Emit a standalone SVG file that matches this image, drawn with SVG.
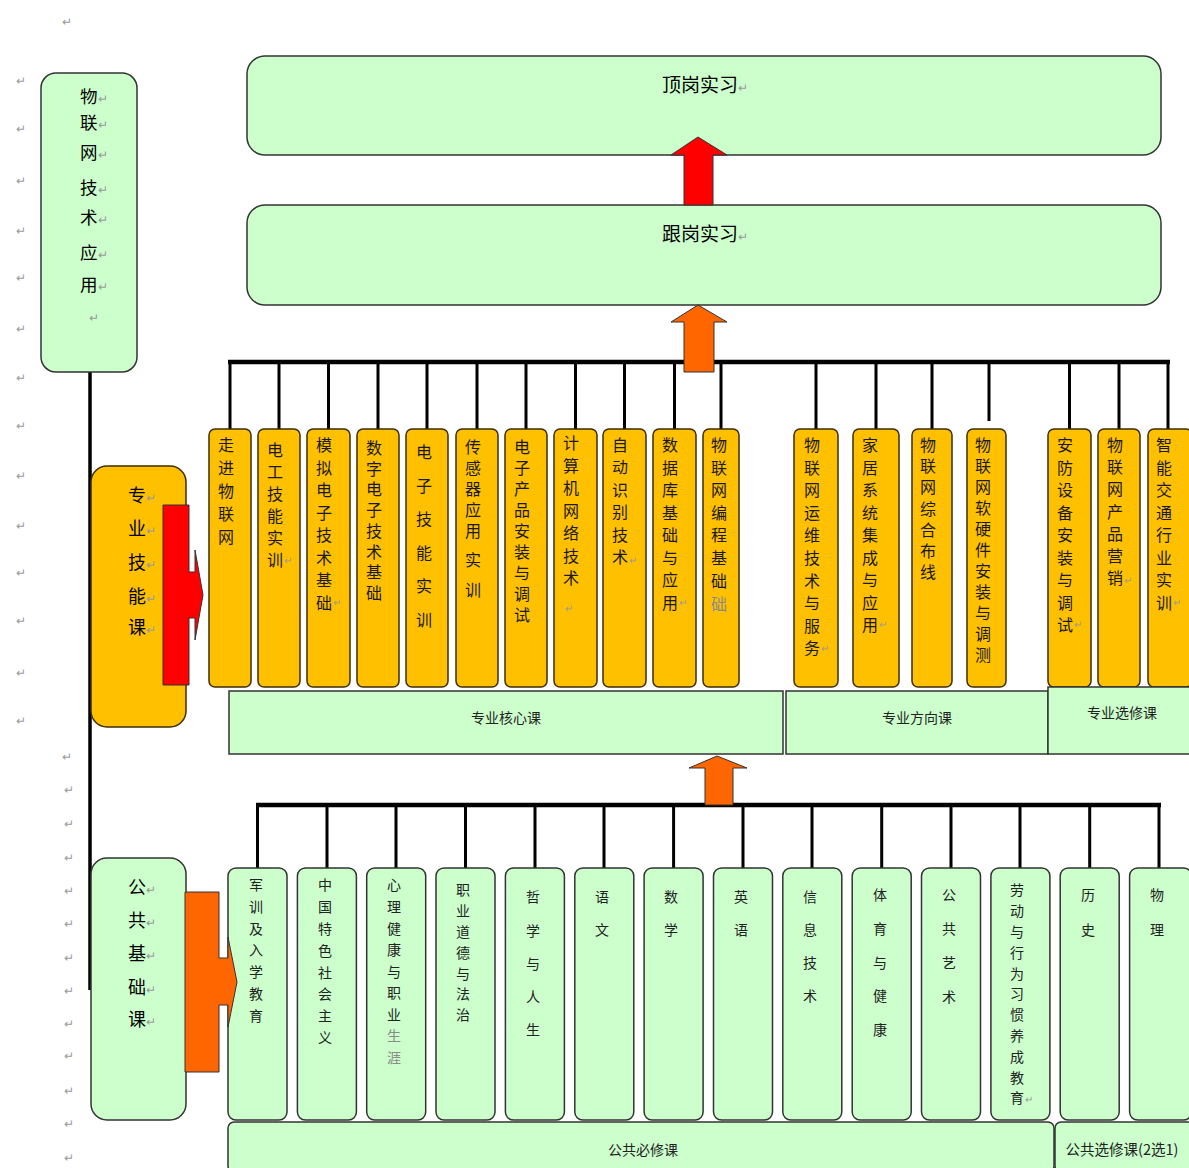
<svg xmlns="http://www.w3.org/2000/svg" width="1189" height="1168" viewBox="0 0 1189 1168">
<style>
.g{fill:#CCFFCC;stroke:#333;stroke-width:1.5}
.y{fill:#FFC000;stroke:#3d2e00;stroke-width:1.5}
.bus{stroke:#000;stroke-width:4.5;fill:none}
.drop{stroke:#000;stroke-width:3;fill:none}
.ar{stroke:#333;stroke-width:1}
text{font-family:"Noto Sans CJK SC","Noto Sans",sans-serif;fill:#000}
.v16{font-size:16px;writing-mode:vertical-rl;fill:#1a1a1a}
.v14{font-size:14px;writing-mode:vertical-rl;fill:#222}
.lb{font-size:14px;text-anchor:middle;fill:#222}
.big{font-size:19px}
.pm{fill:#9a9a9a;font-size:12px}
.pms{fill:#9a9a9a;font-size:10px}
.gray{fill:#8a8a8a}
</style>

<g id="para-marks">
<text class="pm" x="62" y="26">↵</text>
<text class="pm" x="16" y="85">↵</text><text class="pm" x="16" y="133">↵</text><text class="pm" x="16" y="185">↵</text><text class="pm" x="16" y="235">↵</text><text class="pm" x="16" y="282">↵</text><text class="pm" x="16" y="333">↵</text><text class="pm" x="16" y="382">↵</text><text class="pm" x="16" y="430">↵</text><text class="pm" x="16" y="480">↵</text><text class="pm" x="16" y="530">↵</text><text class="pm" x="16" y="577">↵</text><text class="pm" x="16" y="625">↵</text><text class="pm" x="16" y="677">↵</text><text class="pm" x="16" y="725">↵</text>
<text class="pm" x="62" y="761">↵</text><text class="pm" x="64" y="794">↵</text><text class="pm" x="64" y="828">↵</text><text class="pm" x="64" y="862">↵</text><text class="pm" x="64" y="895">↵</text><text class="pm" x="64" y="928">↵</text><text class="pm" x="64" y="962">↵</text><text class="pm" x="64" y="995">↵</text><text class="pm" x="64" y="1028">↵</text><text class="pm" x="64" y="1060">↵</text><text class="pm" x="64" y="1095">↵</text><text class="pm" x="64" y="1128">↵</text><text class="pm" x="64" y="1162">↵</text>
</g>

<g id="connectors">
<line class="drop" x1="90" y1="372" x2="90" y2="990" style="stroke-width:3.5"/>
<line class="bus" x1="228" y1="362" x2="1170" y2="362"/>
<path class="drop" d="M230 362V430M279 362V430M328.5 362V430M378 362V430M427 362V430M477 362V430M526 362V430M575.5 362V430M624.5 362V430M674.5 362V430M721 362V430M816 362V430M876 362V430M932 362V430M989 362V421M1069.5 362V430M1119 362V430M1168 362V430"/>
<line class="bus" x1="256" y1="805" x2="1161" y2="805"/>
<path class="drop" d="M257.5 805V868M327 805V868M396 805V868M465.5 805V868M535 805V868M604 805V868M673.6 805V868M743 805V868M812 805V868M881.7 805V868M951 805V868M1020 805V868M1089.7 805V868M1159 805V868"/>
</g>

<g id="n-dinggang">
<rect class="g" x="247" y="56" width="914" height="99" rx="18"/>
<text class="big" x="662" y="92">顶岗实习<tspan class="pm">↵</tspan></text>
</g>
<g id="n-gengang">
<rect class="g" x="247" y="205" width="914" height="100" rx="18"/>
<text class="big" x="662" y="241">跟岗实习<tspan class="pm">↵</tspan></text>
</g>

<g id="n-root">
<rect class="g" x="41" y="73" width="96" height="299" rx="15"/>
<text style="font-size:17.5px">
<tspan x="80" y="103">物</tspan><tspan class="pm">↵</tspan>
<tspan x="80" y="128.5">联</tspan><tspan class="pm">↵</tspan>
<tspan x="80" y="159">网</tspan><tspan class="pm">↵</tspan>
<tspan x="80" y="194">技</tspan><tspan class="pm">↵</tspan>
<tspan x="80" y="224">术</tspan><tspan class="pm">↵</tspan>
<tspan x="80" y="259">应</tspan><tspan class="pm">↵</tspan>
<tspan x="80" y="291">用</tspan><tspan class="pm">↵</tspan>
</text>
<text class="pm" x="89" y="322">↵</text>
</g>

<g id="n-zhuanye">
<rect x="91" y="466" width="95" height="261" rx="16" style="fill:#FFC000;stroke:#3d2e00;stroke-width:1.5"/>
<text style="font-size:18px">
<tspan x="128" y="502">专</tspan><tspan class="pm">↵</tspan>
<tspan x="128" y="535">业</tspan><tspan class="pm">↵</tspan>
<tspan x="128" y="569">技</tspan><tspan class="pm">↵</tspan>
<tspan x="128" y="603">能</tspan><tspan class="pm">↵</tspan>
<tspan x="128" y="634">课</tspan><tspan class="pm">↵</tspan>
</text>
<polygon class="ar" fill="#FF0000" points="163,505 189,505 189,572 195,572 195,550 203,595 195,640 195,618 189,618 189,685 163,685"/>
</g>

<g id="n-gonggong">
<rect class="g" x="91" y="858" width="95" height="262" rx="16"/>
<text style="font-size:18px">
<tspan x="128" y="894">公</tspan><tspan class="pm">↵</tspan>
<tspan x="128" y="927">共</tspan><tspan class="pm">↵</tspan>
<tspan x="128" y="960">基</tspan><tspan class="pm">↵</tspan>
<tspan x="128" y="994">础</tspan><tspan class="pm">↵</tspan>
<tspan x="128" y="1026">课</tspan><tspan class="pm">↵</tspan>
</text>
</g>

<g id="prof-columns">
<g id="p1"><rect class="y" x="209" y="429" width="42" height="258" rx="6"/>
<text class="v16" x="226" y="437" style="letter-spacing:7px">走进物联网</text></g>
<g id="p2"><rect class="y" x="258" y="429" width="42" height="258" rx="6"/>
<text class="v16" x="275" y="442" style="letter-spacing:6px">电工技能实训</text><text class="pms" x="284" y="564">↵</text></g>
<g id="p3"><rect class="y" x="307" y="429" width="43" height="258" rx="6"/>
<text class="v16" x="324" y="437" style="letter-spacing:6.5px">模拟电子技术基础</text><text class="pms" x="333" y="606">↵</text></g>
<g id="p4"><rect class="y" x="357" y="429" width="42" height="258" rx="6"/>
<text class="v16" x="374" y="440" style="letter-spacing:4.7px">数字电子技术基础</text></g>
<g id="p5"><rect class="y" x="406" y="429" width="42" height="258" rx="6"/>
<text class="v16" x="424" y="444" style="letter-spacing:17.5px">电子技能实训</text></g>
<g id="p6"><rect class="y" x="456" y="429" width="42" height="258" rx="6"/>
<text class="v16" x="473" y="439" style="letter-spacing:5px">传感器应用</text>
<text class="v16" x="473" y="552" style="letter-spacing:14px">实训</text></g>
<g id="p7"><rect class="y" x="505" y="429" width="42" height="258" rx="6"/>
<text class="v16" x="522" y="439" style="letter-spacing:5px">电子产品安装与调试</text></g>
<g id="p8"><rect class="y" x="554" y="429" width="43" height="258" rx="6"/>
<text class="v16" x="571" y="435" style="letter-spacing:6.5px">计算机网络技术</text><text class="pms" x="565" y="612">↵</text></g>
<g id="p9"><rect class="y" x="603" y="429" width="43" height="258" rx="6"/>
<text class="v16" x="620" y="437" style="letter-spacing:6.4px">自动识别技术</text><text class="pms" x="629" y="564">↵</text></g>
<g id="p10"><rect class="y" x="653" y="429" width="43" height="258" rx="6"/>
<text class="v16" x="670" y="437" style="letter-spacing:6.5px">数据库基础与应用</text><text class="pms" x="679" y="606">↵</text></g>
<g id="p11"><rect class="y" x="703" y="429" width="36" height="258" rx="6"/>
<text class="v16" x="719" y="437" style="letter-spacing:6.6px">物联网编程基础</text>
<text class="v16 gray" x="719" y="596">础</text></g>
<g id="p12"><rect class="y" x="794" y="429" width="44" height="258" rx="6"/>
<text class="v16" x="812" y="437" style="letter-spacing:6.6px">物联网运维技术与服务</text><text class="pms" x="821" y="652">↵</text></g>
<g id="p13"><rect class="y" x="853" y="429" width="46" height="258" rx="6"/>
<text class="v16" x="870" y="437" style="letter-spacing:6.5px">家居系统集成与应用</text><text class="pms" x="879" y="628">↵</text></g>
<g id="p14"><rect class="y" x="912" y="429" width="40" height="258" rx="6"/>
<text class="v16" x="928" y="437" style="letter-spacing:5.2px">物联网综合布线</text></g>
<g id="p15"><rect class="y" x="967" y="429" width="39" height="258" rx="6"/>
<text class="v16" x="983" y="437" style="letter-spacing:5px">物联网软硬件安装与调测</text></g>
<g id="p16"><rect class="y" x="1048" y="429" width="43" height="258" rx="6"/>
<text class="v16" x="1065" y="437" style="letter-spacing:6.5px">安防设备安装与调试</text><text class="pms" x="1074" y="628">↵</text></g>
<g id="p17"><rect class="y" x="1098" y="429" width="42" height="258" rx="6"/>
<text class="v16" x="1115" y="437" style="letter-spacing:6.2px">物联网产品营销</text><text class="pms" x="1124" y="584">↵</text></g>
<g id="p18"><rect class="y" x="1148" y="429" width="44" height="258" rx="6"/>
<text class="v16" x="1164" y="437" style="letter-spacing:6.5px">智能交通行业实训</text><text class="pms" x="1173" y="606">↵</text></g>
</g>

<g id="prof-labels">
<g id="l-core"><rect class="g" x="229" y="691" width="554" height="63"/><text class="lb" x="506" y="723">专业核心课</text></g>
<g id="l-dir"><rect class="g" x="786" y="691" width="262" height="63"/><text class="lb" x="917" y="723">专业方向课</text></g>
<g id="l-elec"><rect class="g" x="1048" y="687" width="145" height="67"/><text class="lb" x="1122" y="718">专业选修课</text></g>
</g>

<g id="pub-columns">
<g id="b1"><rect class="g" x="228" y="868" width="59" height="252" rx="8"/>
<text class="v14" x="256" y="878" style="letter-spacing:7.7px">军训及入学教育</text></g>
<g id="b2"><rect class="g" x="297.4" y="868" width="59" height="252" rx="8"/>
<text class="v14" x="325" y="878" style="letter-spacing:7.8px">中国特色社会主义</text></g>
<g id="b3"><rect class="g" x="366.7" y="868" width="59" height="252" rx="8"/>
<text class="v14" x="394" y="878" style="letter-spacing:7.6px">心理健康与职业</text>
<text class="v14 gray" x="394" y="1029" style="letter-spacing:7.6px">生涯</text></g>
<g id="b4"><rect class="g" x="436" y="868" width="59" height="252" rx="8"/>
<text class="v14" x="463" y="883" style="letter-spacing:6.8px">职业道德与法治</text></g>
<g id="b5"><rect class="g" x="505.4" y="868" width="59" height="252" rx="8"/>
<text class="v14" x="533" y="890" style="letter-spacing:19.2px">哲学与人生</text></g>
<g id="b6"><rect class="g" x="574.8" y="868" width="59" height="252" rx="8"/>
<text class="v14" x="602" y="890" style="letter-spacing:19px">语文</text></g>
<g id="b7"><rect class="g" x="644.1" y="868" width="59" height="252" rx="8"/>
<text class="v14" x="671" y="890" style="letter-spacing:19px">数学</text></g>
<g id="b8"><rect class="g" x="713.5" y="868" width="59" height="252" rx="8"/>
<text class="v14" x="741" y="890" style="letter-spacing:19px">英语</text></g>
<g id="b9"><rect class="g" x="782.8" y="868" width="59" height="252" rx="8"/>
<text class="v14" x="810" y="890" style="letter-spacing:19px">信息技术</text></g>
<g id="b10"><rect class="g" x="852.2" y="868" width="59" height="252" rx="8"/>
<text class="v14" x="880" y="888" style="letter-spacing:19.7px">体育与健康</text></g>
<g id="b11"><rect class="g" x="921.5" y="868" width="59" height="252" rx="8"/>
<text class="v14" x="949" y="888" style="letter-spacing:20px">公共艺术</text></g>
<g id="b12"><rect class="g" x="990.9" y="868" width="59" height="252" rx="8"/>
<text class="v14" x="1017" y="883" style="letter-spacing:6.8px">劳动与行为习惯养成教育</text><text class="pms" x="1025" y="1103">↵</text></g>
<g id="b13"><rect class="g" x="1060.2" y="868" width="59" height="252" rx="8"/>
<text class="v14" x="1088" y="888" style="letter-spacing:21px">历史</text></g>
<g id="b14"><rect class="g" x="1129.6" y="868" width="62" height="252" rx="8"/>
<text class="v14" x="1157" y="888" style="letter-spacing:21px">物理</text></g>
</g>

<g id="pub-labels">
<g id="l-pubreq"><rect class="g" x="228" y="1122" width="826" height="50" rx="6"/><text class="lb" x="643" y="1155">公共必修课</text></g>
<g id="l-pubel"><rect class="g" x="1055" y="1122" width="140" height="50" rx="6"/><text class="lb" x="1122" y="1155" style="font-size:14.5px">公共选修课(2选1)</text></g>
</g>

<g id="arrows">
<polygon class="ar" fill="#FF0000" points="698,137 727,155 713,155 713,205 684,205 684,155 671,155"/>
<polygon class="ar" fill="#FF6600" points="698,305 727,322 714,322 714,372 684,372 684,322 671,322"/>
<polygon class="ar" fill="#FF6600" points="717,756 747,768 733,768 733,805 705,805 705,768 689,768"/>
<polygon class="ar" fill="#FF6600" points="185,892 219,892 219,958 228,958 228,937 237,982 228,1027 228,1005 219,1005 219,1072 185,1072"/>
</g>
</svg>
